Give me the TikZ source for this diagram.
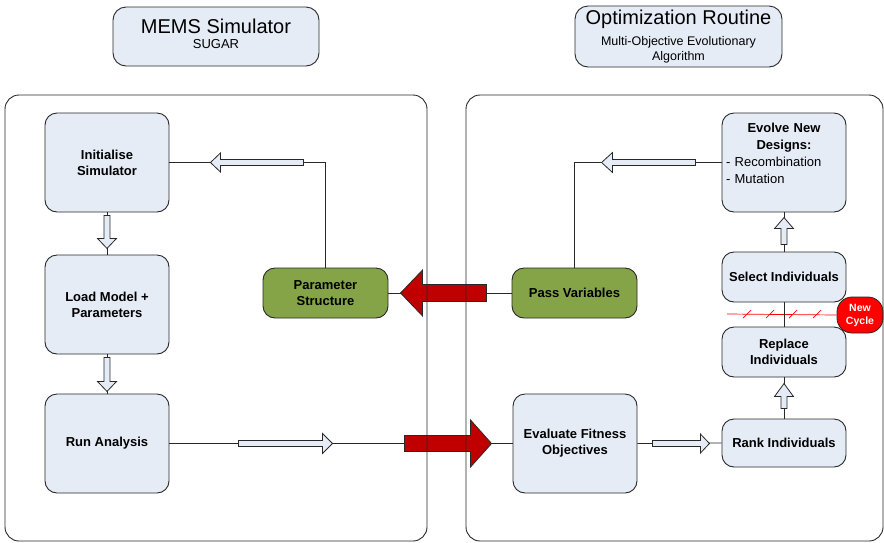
\documentclass[tikz,border=0pt]{standalone}
\usepackage{fontspec}
\setmainfont{Liberation Sans}
\usetikzlibrary{calc}
\setlength\parindent{0pt}
\definecolor{boxfill}{RGB}{229,236,246}
\definecolor{bordc}{RGB}{40,40,40}
\definecolor{greenfill}{RGB}{133,164,71}
\definecolor{darkred}{RGB}{192,0,0}
\definecolor{brightred}{RGB}{255,0,0}
% style, start, angle, length, head length, shaft half width, head half width
\newcommand{\fatarrow}[7]{%
  \draw[#1,shift={#2},rotate=#3] (0,-#6) -- (#4-#5,-#6) -- (#4-#5,-#7) -- (#4,0)
     -- (#4-#5,#7) -- (#4-#5,#6) -- (0,#6) -- cycle;}
\tikzset{
  box/.style={draw=bordc, fill=boxfill, line width=0.9pt, rounded corners=12pt, inner sep=2pt,
    align=center, font=\bfseries\fontsize{13}{16}\selectfont},
  gbox/.style={box, fill=greenfill},
  titlebox/.style={draw=bordc, fill=boxfill, line width=0.9pt, rounded corners=13pt, align=center, inner sep=2pt},
  container/.style={draw=bordc, line width=0.9pt, rounded corners=14pt, inner sep=0pt},
  conn/.style={draw=bordc, line width=0.8pt},
  hollow/.style={draw=bordc, fill=boxfill, line width=0.8pt},
  redarrow/.style={draw=bordc, fill=darkred, line width=0.8pt},
  cycline/.style={draw=brightred, line width=0.7pt},
}
\begin{document}
\begin{tikzpicture}[x=1pt,y=-1pt]
\useasboundingbox (0,0) rectangle (884,542);

% titles
\node[titlebox, minimum width=206, minimum height=59] (memst) at (216,36.5) {};
\node[align=center, inner sep=0pt, font=\fontsize{13}{15}\selectfont] (memstxt) at (216,33.5)
  {{\fontsize{20}{20}\selectfont MEMS Simulator}\\SUGAR};
\node[titlebox, minimum width=207, minimum height=61, font=\fontsize{12.5}{15}\selectfont] (optt) at (678.5,36.5)
  {{\fontsize{20}{20}\selectfont Optimization Routine}\\[6pt]Multi-Objective Evolutionary\\Algorithm};

% boxes
\node[box, minimum width=124, minimum height=99] (init) at (107,162.5) {Initialise\\Simulator};
\node[box, minimum width=124, minimum height=99] (load) at (107,304.5) {Load Model +\\Parameters};
\node[box, minimum width=124, minimum height=99] (run) at (107,443.5) {Run Analysis};
\node[gbox, minimum width=125, minimum height=50] (param) at (325.5,293) {Parameter\\Structure};
\node[gbox, minimum width=125, minimum height=50] (pass) at (574.5,293) {Pass Variables};
\node[box, minimum width=124, minimum height=99] (evolve) at (784,162.5) {};
\node[font=\fontsize{13}{17}\selectfont, text width=116, inner sep=0pt, anchor=north] (evtxt) at (784,123)
  {\centering\textbf{Evolve New}\\\textbf{Designs:}\par\raggedright - Recombination\\- Mutation\par};
\node[box, minimum width=124, minimum height=50] (select) at (784,277) {Select Individuals};
\node[box, minimum width=124, minimum height=50] (replace) at (784,352) {Replace\\Individuals};
\node[box, minimum width=124, minimum height=48] (rank) at (784,443) {Rank Individuals};
\node[box, minimum width=124, minimum height=99] (evaluate) at (575,443.5) {Evaluate Fitness\\Objectives};

% connectors
\draw[conn] (init.south) -- (load.north);
\draw[conn] (load.south) -- (run.north);
\draw[conn] (run.east) -- (evaluate.west);
\draw[conn] (param.north) |- (init.east);
\draw[conn] (pass.north) |- (evolve.west);
\draw[conn] (pass.west) -- (param.east);
\draw[conn] (select.north) -- (evolve.south);
\draw[conn] (rank.north) -- (replace.south);
\draw[conn] (evaluate.east) -- (rank.west);

% new cycle marker
\node[draw=bordc, fill=brightred, line width=0.8pt, rounded corners=15pt, minimum width=46, minimum height=36,
  text=white, font=\bfseries\fontsize{10.5}{13}\selectfont, align=center, inner sep=0pt] (cyc) at (860,315) {New\\Cycle};
\coordinate (cycstart) at (727,314);
\draw[cycline] (cycstart) -- (cyc.west);
\foreach \xx in {747,770,793,817} \draw[cycline] (\xx-4,318) -- (\xx+4,310);
\draw[conn] (select.south) -- (replace.north);

% hollow arrows
\fatarrow{hollow}{($(init.south)+(0,3)$)}{270}{33}{10}{3}{9.5}
\fatarrow{hollow}{($(load.south)+(0,3)$)}{270}{34}{10}{3}{9.5}
\fatarrow{hollow}{($(run.east)+(69,0)$)}{0}{94}{10}{3}{10}
\fatarrow{hollow}{($(init.east)+(134,0)$)}{180}{93}{10}{3}{9.5}
\fatarrow{hollow}{($(evolve.west)+(-26,0)$)}{180}{94}{11}{3}{10}
\fatarrow{hollow}{($(select.north)+(0,-7)$)}{90}{27}{11}{3}{9.5}
\fatarrow{hollow}{($(rank.north)+(0,-10)$)}{90}{25}{13}{3}{9.5}
\fatarrow{hollow}{($(evaluate.east)+(15,0)$)}{0}{57}{9}{3}{9.5}

% red arrows
\fatarrow{redarrow}{($(pass.west)+(-25,0)$)}{180}{86}{22}{8.5}{23}
\fatarrow{redarrow}{($(evaluate.west)+(-108,0)$)}{0}{87}{21}{8}{23.5}

% containers
\node[container, minimum width=422, minimum height=446] (leftc) at (216,318) {};
\node[container, minimum width=417, minimum height=446] (rightc) at (674.5,318) {};
\end{tikzpicture}
\end{document}
